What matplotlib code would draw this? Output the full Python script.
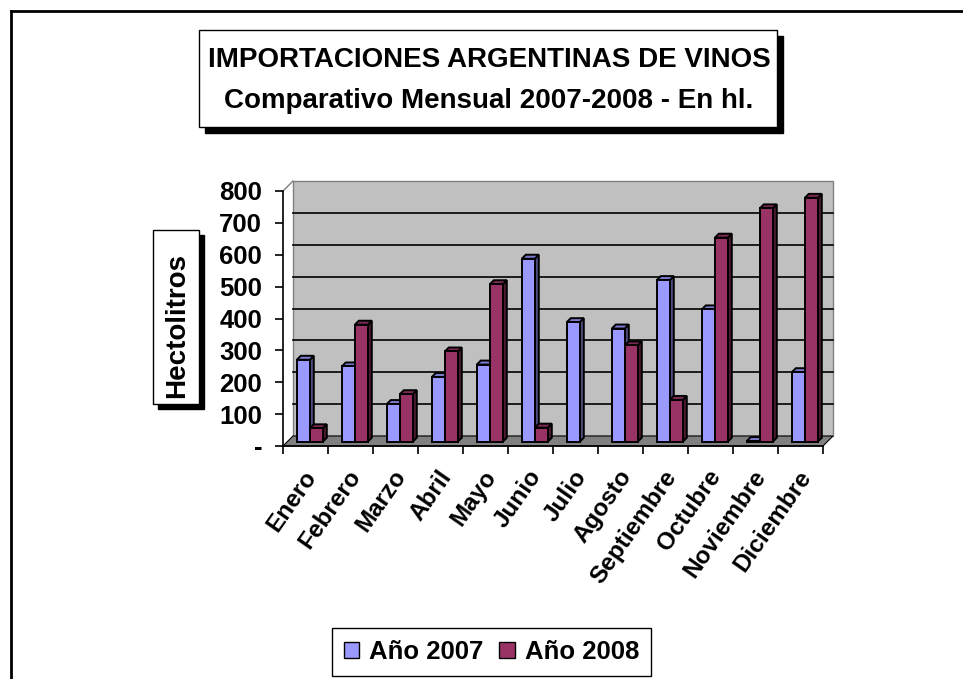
import matplotlib
matplotlib.use("Agg")
import matplotlib.pyplot as plt
import matplotlib.transforms as mtransforms
from matplotlib.patches import Rectangle, Polygon, Patch
from matplotlib.lines import Line2D

plt.rcParams['font.family'] = ['Liberation Sans', 'DejaVu Sans']
plt.rcParams['font.weight'] = 'bold'

# data (hectolitros)
meses = ["Enero", "Febrero", "Marzo", "Abril", "Mayo", "Junio", "Julio",
         "Agosto", "Septiembre", "Octubre", "Noviembre", "Diciembre"]
anio_2007 = [257, 236, 118, 203, 242, 574, 375, 355, 507, 415, 2, 218]
anio_2008 = [42, 367, 149, 283, 494, 44, 0, 302, 131, 640, 732, 765]
yticks = [0, 100, 200, 300, 400, 500, 600, 700, 800]
ytick_labels = ["-", "100", "200", "300", "400", "500", "600", "700", "800"]
series = ["Año 2007", "Año 2008"]

W, H = 963, 679
fig = plt.figure(figsize=(W / 100, H / 100), dpi=100)


def fx(px):
    return px / W


def fy(py):
    return 1 - py / H


# outer chart frame (cut by the picture on the right and bottom)
fig.add_artist(Line2D([fx(11), fx(11)], [fy(11), 0], color="black", lw=2))
fig.add_artist(Line2D([fx(11), 1], [fy(11), fy(11)], color="black", lw=2))

# title box with shadow
fig.add_artist(Rectangle((fx(205), fy(133)), fx(578), 97 / H, transform=fig.transFigure,
                         fc="black", ec="black"))
fig.add_artist(Rectangle((fx(199), fy(127)), fx(578), 97 / H, transform=fig.transFigure,
                         fc="white", ec="black", lw=1))
fig.text(fx(489), fy(67), "IMPORTACIONES ARGENTINAS DE VINOS", ha="center", va="baseline",
         fontsize=20, fontweight="bold")
fig.text(fx(489), fy(108), "Comparativo Mensual 2007-2008 - En hl.", ha="center", va="baseline",
         fontsize=20, fontweight="bold")

# y label box with shadow
fig.add_artist(Rectangle((fx(158), fy(409)), fx(46), 174 / H, transform=fig.transFigure,
                         fc="black", ec="black"))
fig.add_artist(Rectangle((fx(153), fy(404)), fx(46), 174 / H, transform=fig.transFigure,
                         fc="white", ec="black", lw=1))
fig.text(fx(177), fy(325), "Hectolitros", rotation=90, ha="center", va="center",
         fontsize=20, fontweight="bold")

# plot area (front plane)
ax = fig.add_axes([fx(283), fy(446), fx(540), 255 / H])
ax.set_xlim(0, 12)
ax.set_ylim(0, 800)
ax.patch.set_visible(False)

ux = 12 / 540      # data units per pixel
uy = 800 / 255
DX, DY = 10 * ux, 10 * uy          # wall depth
SX, SY = 4.3 * ux, 4.3 * uy        # bar position in depth
BDX, BDY = 4 * ux, 4 * uy          # bar depth
bw = 13 * ux

# walls and floor
ax.add_patch(Polygon([(DX, DY), (12 + DX, DY), (12 + DX, 800 + DY), (DX, 800 + DY)],
                     closed=True, fc="#C0C0C0", ec="#808080", lw=1, clip_on=False, zorder=1))
for v in yticks[1:-1]:
    ax.plot([DX, 12 + DX], [v + DY, v + DY], color="black", lw=1.2, clip_on=False, zorder=2)
ax.plot([0, DX], [800, 800 + DY], color="#808080", lw=1, clip_on=False, zorder=2)
ax.add_patch(Polygon([(0, 0), (12, 0), (12 + DX, DY), (DX, DY)], closed=True,
                     fc="#808080", ec="black", lw=0.8, clip_on=False, zorder=2))

colores = [("#9999FF", "#4D4D80", "#7A7ACC"), ("#993366", "#4D1A33", "#7A2952")]


def barra(x0, h, cols):
    if h <= 0:
        return
    front, side, top = cols
    x0 = x0 + SX
    y0 = SY
    kw = dict(closed=True, ec="black", lw=1.4, joinstyle="miter", clip_on=False, zorder=3)
    ax.add_patch(Polygon([(x0 + bw, y0), (x0 + bw + BDX, y0 + BDY),
                          (x0 + bw + BDX, y0 + h + BDY), (x0 + bw, y0 + h)], fc=side, **kw))
    ax.add_patch(Polygon([(x0, y0 + h), (x0 + bw, y0 + h), (x0 + bw + BDX, y0 + h + BDY),
                          (x0 + BDX, y0 + h + BDY)], fc=top, **kw))
    ax.add_patch(Polygon([(x0, y0), (x0 + bw, y0), (x0 + bw, y0 + h), (x0, y0 + h)],
                         fc=front, **kw))


for i in range(len(meses)):
    xc = i + 0.5
    barra(xc - bw, anio_2007[i], colores[0])
    barra(xc, anio_2008[i], colores[1])

# axes
for s in ["top", "right"]:
    ax.spines[s].set_visible(False)
ax.spines["left"].set_linewidth(1.2)
ax.spines["bottom"].set_linewidth(1.2)
ax.set_yticks(yticks)
ax.set_yticklabels(ytick_labels, fontsize=18.5, fontweight="bold")
ax.tick_params(axis="y", length=6, width=1.2, pad=9)
ax.set_xticks(range(13))
ax.set_xticklabels([""] * 13)
ax.tick_params(axis="x", which="major", length=6, width=1.2)
ax.set_xticks([i + 0.5 for i in range(12)], minor=True)
ax.set_xticklabels(meses, minor=True, rotation=55, ha="right", va="center",
                   rotation_mode="anchor", fontsize=17.5, fontweight="bold")
ax.tick_params(axis="x", which="minor", length=0, pad=19)
shift = mtransforms.ScaledTranslation(6 / 100, 0, fig.dpi_scale_trans)
for lab in ax.get_xticklabels(minor=True):
    lab.set_transform(lab.get_transform() + shift)

# legend
handles = [Patch(fc=colores[0][0], ec="black", lw=1), Patch(fc=colores[1][0], ec="black", lw=1)]
leg = fig.legend(handles, series, loc="center", bbox_to_anchor=(fx(491.5), fy(652)), ncol=2,
                 frameon=True, fancybox=False, edgecolor="black", fontsize=18.5,
                 handlelength=0.6, handleheight=0.6, columnspacing=0.6,
                 handletextpad=0.4, borderpad=0.45, borderaxespad=0)
leg.get_frame().set_linewidth(1)
leg.get_frame().set_alpha(1)

fig.savefig("out.png", dpi=100)
